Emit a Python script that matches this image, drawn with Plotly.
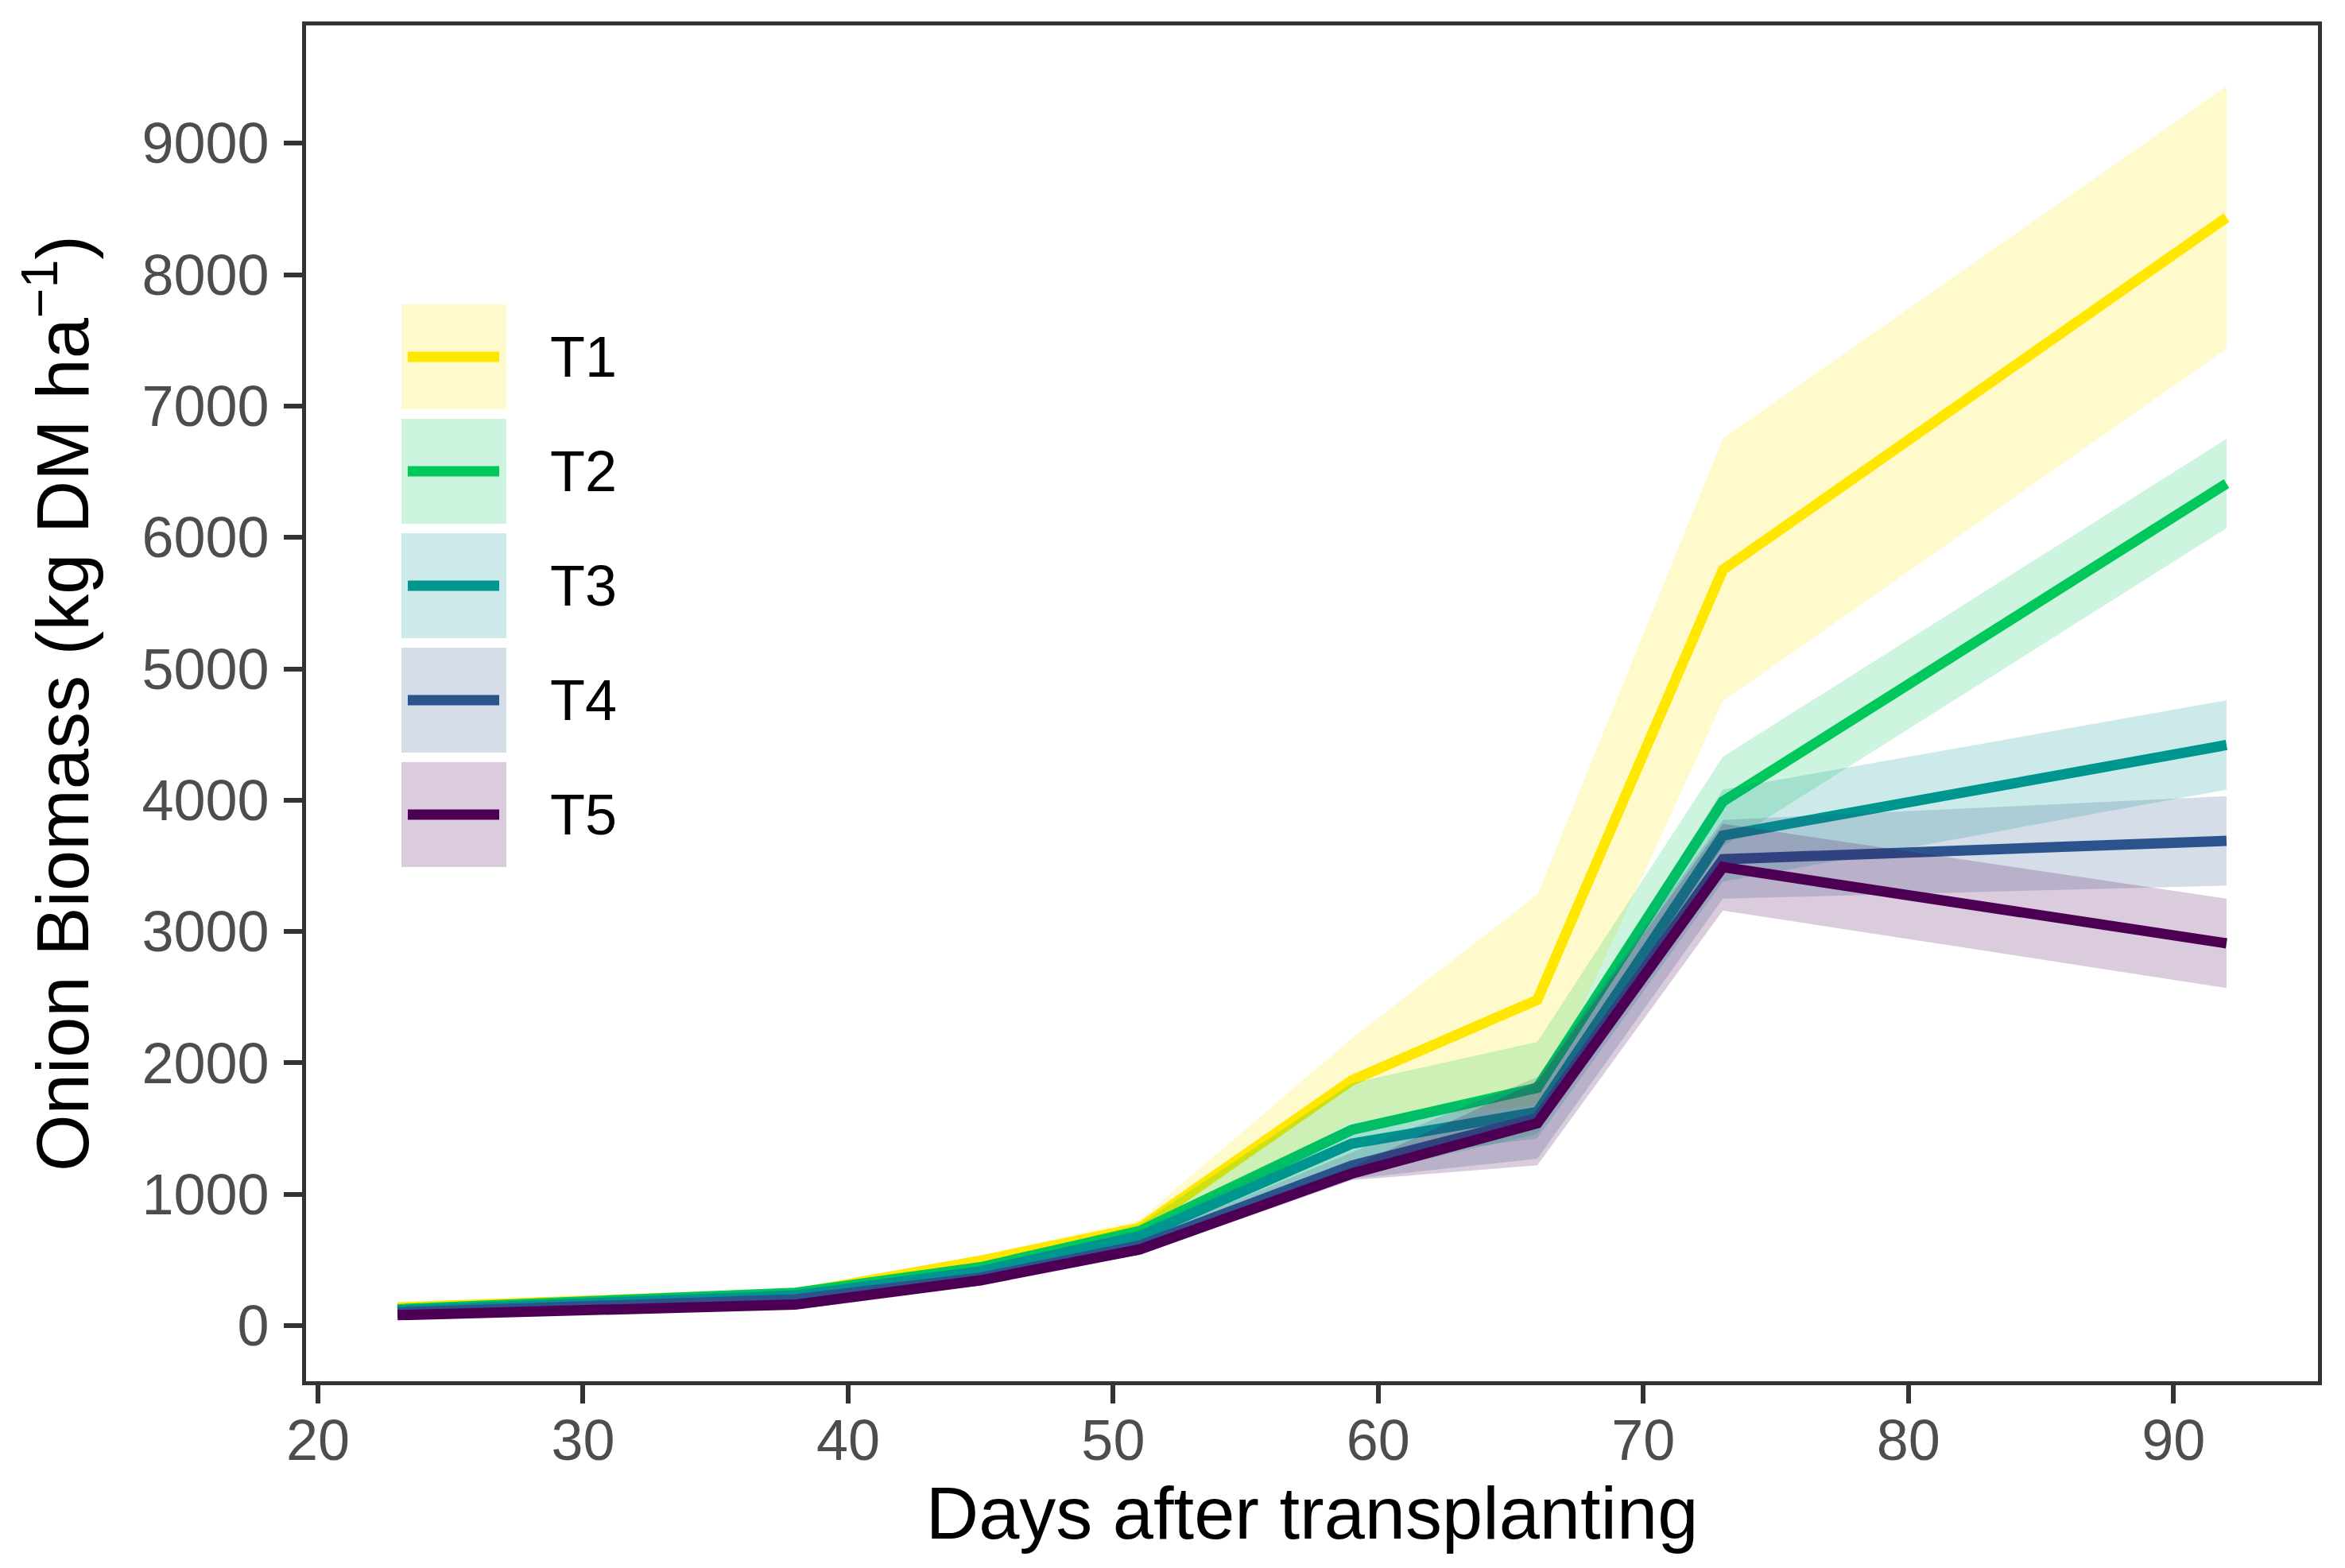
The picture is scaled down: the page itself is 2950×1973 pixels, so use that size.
import plotly.graph_objects as go

# ---------------- data ----------------
days = [23, 38, 45, 51, 59, 66, 73, 92]

t1_mean = [140, 245, 495, 745, 1867, 2480, 5753, 8435]
t1_se = [15, 20, 40, 60, 320, 800, 1000, 1000]
t2_mean = [125, 250, 445, 720, 1490, 1810, 3990, 6410]
t2_se = [10, 20, 30, 50, 355, 350, 340, 340]
t3_mean = [115, 230, 415, 680, 1385, 1627, 3730, 4420]
t3_se = [10, 20, 30, 50, 150, 200, 350, 340]
t4_mean = [100, 200, 365, 610, 1218, 1581, 3550, 3690]
t4_se = [10, 15, 25, 40, 100, 310, 300, 340]
t5_mean = [80, 160, 345, 580, 1157, 1541, 3490, 2910]
t5_se = [10, 15, 25, 40, 50, 320, 330, 340]

names = ["T1", "T2", "T3", "T4", "T5"]
colors = ["#FFE700", "#00C85A", "#009690", "#2B538C", "#4D0053"]

x_ticks = [20, 30, 40, 50, 60, 70, 80, 90]
y_ticks = [0, 1000, 2000, 3000, 4000, 5000, 6000, 7000, 8000, 9000]

x_title = "Days after transplanting"
y_title = "Onion Biomass (kg DM ha<sup>\u22121</sup>)"

# ---------------- layout constants ----------------
# the page body has an 8px default margin; compensate so the plot
# panel lands where it is in the reference picture (2950 x 1973)
OFF = 8
PAGE_W, PAGE_H = 2950, 1973
W, H = PAGE_W - 2 * OFF, PAGE_H - 2 * OFF
PL, PR, PT, PB = 385, 2916, 32, 1738          # panel edges, page pixels
FONT = "Liberation Sans, Arial, Helvetica, sans-serif"


def rgba(hex_color, a):
    h = hex_color.lstrip("#")
    r, g, b = int(h[0:2], 16), int(h[2:4], 16), int(h[4:6], 16)
    return f"rgba({r},{g},{b},{a})"


def px_x(p):
    return (p - PL) / (PR - PL)


def px_y(p):
    return (PB - p) / (PB - PT)


series = [
    (t1_mean, t1_se),
    (t2_mean, t2_se),
    (t3_mean, t3_se),
    (t4_mean, t4_se),
    (t5_mean, t5_se),
]

fig = go.Figure()

for name, col, (m, s) in zip(names, colors, series):
    lower = [a - b for a, b in zip(m, s)]
    upper = [a + b for a, b in zip(m, s)]
    fig.add_trace(go.Scatter(x=days, y=lower, mode="lines", line=dict(width=0, color=col),
                             showlegend=False, hoverinfo="skip"))
    fig.add_trace(go.Scatter(x=days, y=upper, mode="lines", line=dict(width=0, color=col),
                             fill="tonexty", fillcolor=rgba(col, 0.2),
                             showlegend=False, hoverinfo="skip"))
    fig.add_trace(go.Scatter(x=days, y=m, mode="lines", name=name,
                             line=dict(width=13, color=col), showlegend=False))

# ---------------- manual legend (keys with band + line) ----------------
shapes = []
annotations = []
key_x0, key_x1 = 505, 637
line_x0, line_x1 = 513, 628
key_top0, key_size, key_pitch = 383, 132, 144
for i, (name, col) in enumerate(zip(names, colors)):
    top = key_top0 + i * key_pitch
    bot = top + key_size
    mid = (top + bot) / 2
    shapes.append(dict(type="rect", xref="paper", yref="paper",
                       x0=px_x(key_x0), x1=px_x(key_x1), y0=px_y(bot), y1=px_y(top),
                       fillcolor=rgba(col, 0.2), line=dict(width=0), layer="above"))
    shapes.append(dict(type="line", xref="paper", yref="paper",
                       x0=px_x(line_x0), x1=px_x(line_x1), y0=px_y(mid), y1=px_y(mid),
                       line=dict(color=col, width=13), layer="above"))
    annotations.append(dict(text=name, xref="paper", yref="paper",
                            x=px_x(690), y=px_y(mid), xanchor="left", yanchor="middle",
                            showarrow=False, font=dict(size=72, color="#000000", family=FONT)))

fig.update_layout(
    width=W, height=H,
    margin=dict(l=PL - OFF, r=W - (PR - OFF), t=PT - OFF, b=H - (PB - OFF), autoexpand=False),
    paper_bgcolor="white", plot_bgcolor="white",
    font=dict(family=FONT, size=72, color="#4D4D4D"),
    showlegend=False,
    shapes=shapes,
    annotations=annotations,
)

axis_common = dict(
    showgrid=False, zeroline=False,
    showline=True, mirror=True, linecolor="#333333", linewidth=5,
    ticks="outside", ticklen=23, tickwidth=6, tickcolor="#333333",
    tickfont=dict(size=72, color="#4D4D4D", family=FONT),
)

fig.update_xaxes(
    range=[19.55, 95.45], tickvals=x_ticks, ticktext=[str(v) for v in x_ticks],
    ticklabelstandoff=-15,
    title=dict(text=x_title, font=dict(size=92, color="#000000", family=FONT), standoff=22),
    **axis_common,
)
fig.update_yaxes(
    range=[-423, 9897], tickvals=y_ticks, ticktext=[str(v) for v in y_ticks],
    ticklabelstandoff=4,
    title=dict(text=y_title, font=dict(size=92, color="#000000", family=FONT), standoff=38),
    **axis_common,
)

fig.write_html("out.html")
